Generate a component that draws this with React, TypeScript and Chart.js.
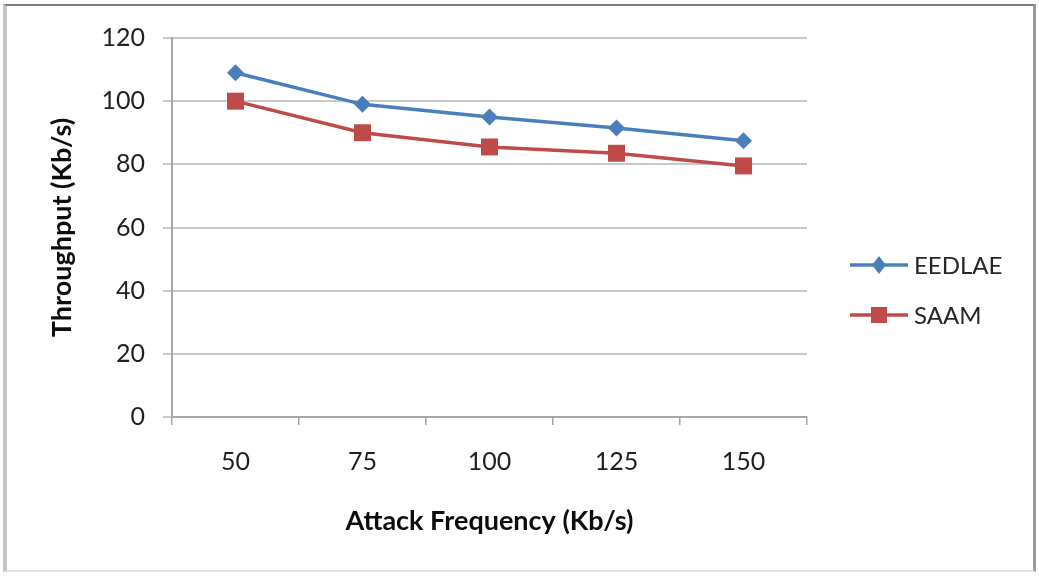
import React, { useEffect, useRef } from "react";
import { Chart, registerables } from "chart.js";

Chart.register(...registerables);

const categories = ["50", "75", "100", "125", "150"];
const eedlae = [109, 99, 95, 91.5, 87.5];
const saam = [100, 90, 85.5, 83.5, 79.5];
const seriesNames = ["EEDLAE", "SAAM"];
const yTicks = [0, 20, 40, 60, 80, 100, 120];

const BLUE = "#4A7EBB";
const RED = "#BE4B48";
const FONT = "Lato, 'Open Sans', sans-serif";

const legendPlugin = {
  id: "customLegend",
  afterDraw(chart: any) {
    const ctx = chart.ctx;
    const items = [
      { name: seriesNames[0], color: BLUE, style: "rectRot", y: 265 },
      { name: seriesNames[1], color: RED, style: "rect", y: 315 },
    ];
    ctx.save();
    for (const it of items) {
      ctx.strokeStyle = it.color;
      ctx.lineWidth = 3.5;
      ctx.beginPath();
      ctx.moveTo(850, it.y);
      ctx.lineTo(908, it.y);
      ctx.stroke();
      ctx.fillStyle = it.color;
      if (it.style === "rect") {
        ctx.fillRect(879 - 8, it.y - 8, 16, 16);
      } else {
        ctx.beginPath();
        ctx.moveTo(879, it.y - 9);
        ctx.lineTo(886, it.y);
        ctx.lineTo(879, it.y + 9);
        ctx.lineTo(872, it.y);
        ctx.closePath();
        ctx.fill();
      }
      ctx.fillStyle = "#262626";
      ctx.font = `24px ${FONT}`;
      ctx.textBaseline = "middle";
      ctx.textAlign = "left";
      ctx.fillText(it.name, 914, it.y + 1);
    }
    ctx.restore();
  },
};

export default function App() {
  const ref = useRef<HTMLCanvasElement>(null);
  useEffect(() => {
    document.body.style.margin = "0";
    const chart = new Chart(ref.current as HTMLCanvasElement, {
      type: "line",
      data: {
        labels: categories,
        datasets: [
          {
            label: seriesNames[0],
            data: eedlae,
            borderColor: BLUE,
            backgroundColor: BLUE,
            borderWidth: 3.5,
            pointStyle: "rectRot",
            pointRadius: 8.5,
            pointBorderWidth: 0,
            tension: 0,
          },
          {
            label: seriesNames[1],
            data: saam,
            borderColor: RED,
            backgroundColor: RED,
            borderWidth: 3.5,
            pointStyle: "rect",
            pointRadius: 12,
            pointBorderWidth: 0,
            tension: 0,
          },
        ],
      },
      options: {
        animation: false,
        responsive: false,
        layout: { padding: { left: 0, top: 38, right: 232, bottom: 0 } },
        plugins: { legend: { display: false }, tooltip: { enabled: false } },
        scales: {
          x: {
            offset: true,
            grid: {
              offset: true,
              drawOnChartArea: false,
              drawTicks: true,
              tickLength: 8,
              color: "#a6a6a6",
              lineWidth: 1.5,
            },
            border: { color: "#a6a6a6", width: 2 },
            ticks: { padding: 22, color: "#1f1f1f", font: { family: FONT, size: 25 } },
            title: {
              display: true,
              text: "Attack Frequency (Kb/s)",
              color: "#0d0d0d",
              font: { family: FONT, size: 27, weight: "bold" },
              padding: { top: 0, bottom: 41 },
            },
            afterFit: (s: any) => {
              s.height = 578 - 417;
            },
          },
          y: {
            min: 0,
            max: 120,
            afterBuildTicks: (s: any) => {
              s.ticks = yTicks.map((v) => ({ value: v }));
            },
            grid: {
              color: "#c8c8c8",
              lineWidth: 2,
              drawTicks: true,
              tickLength: 9,
            },
            border: { color: "#a6a6a6", width: 2 },
            ticks: { padding: 18, color: "#1f1f1f", font: { family: FONT, size: 25 } },
            title: {
              display: true,
              text: "Throughput (Kb/s)",
              color: "#0d0d0d",
              font: { family: FONT, size: 27, weight: "bold" },
              padding: { top: 46, bottom: 0 },
            },
            afterFit: (s: any) => {
              s.width = 172;
            },
          },
        },
      },
      plugins: [legendPlugin],
    });
    return () => chart.destroy();
  }, []);
  return (
    <div style={{ position: "fixed", left: 0, top: 0, width: 1039, height: 578, background: "#fff" }}>
      <canvas ref={ref} width={1039} height={578} style={{ position: "absolute", left: 0, top: 0 }} />
      <div
        style={{
          position: "absolute",
          left: 3,
          top: 4,
          width: 1026,
          height: 564,
          borderTop: "2px solid #7a7a7a",
          borderLeft: "4px solid #c4c4c4",
          borderRight: "3px solid #9a9a9a",
          borderBottom: "2px solid #e0e0e0",
          pointerEvents: "none",
        }}
      />
    </div>
  );
}
